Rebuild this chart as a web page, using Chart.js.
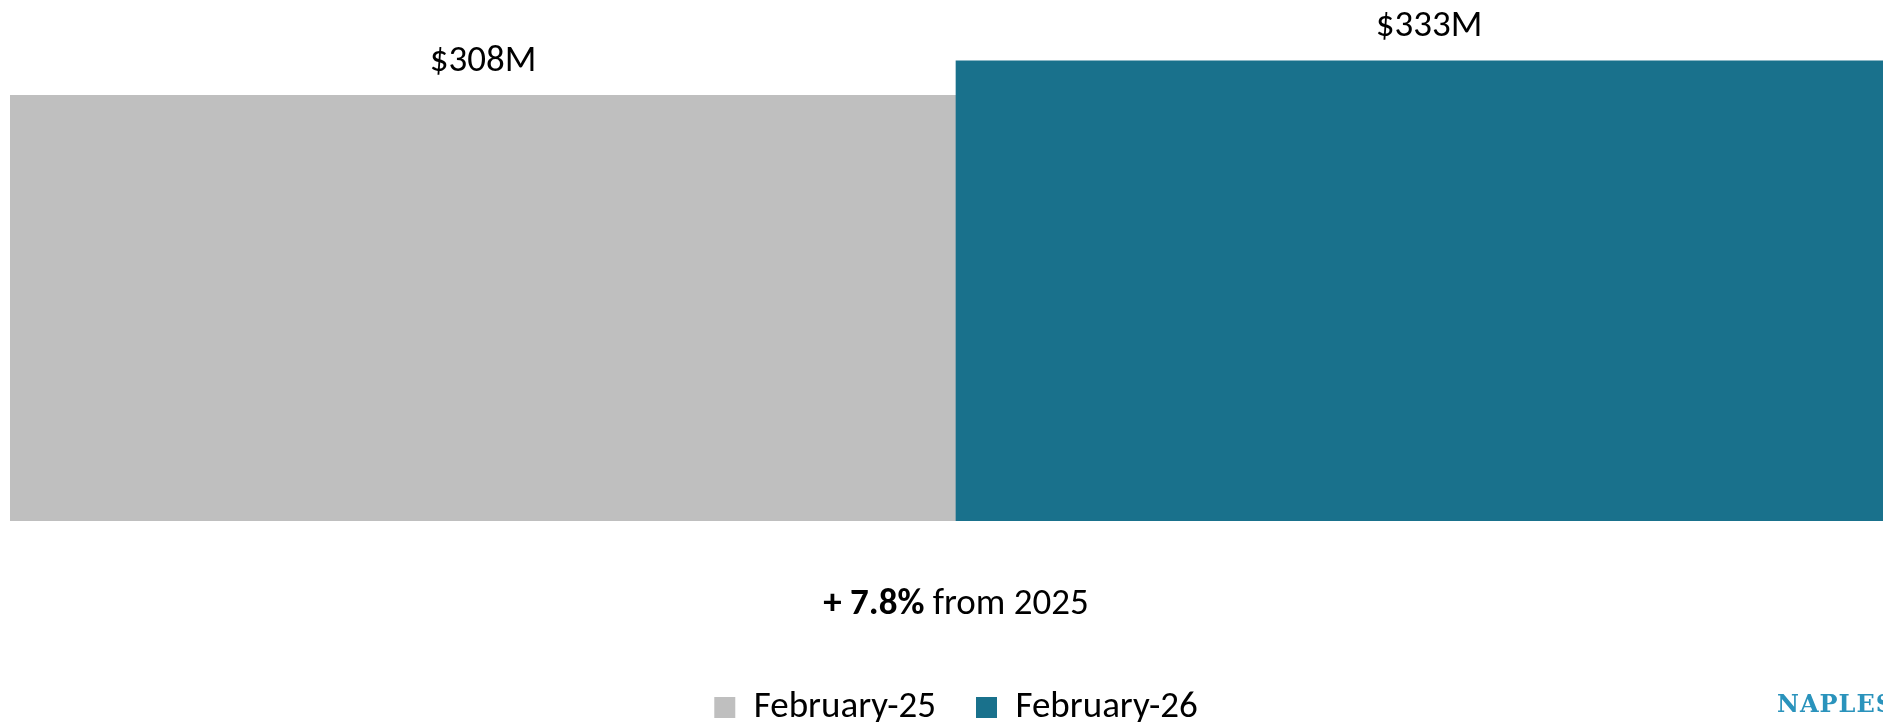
<!DOCTYPE html>
<html>
<head>
<meta charset="utf-8">
<title>February Sales Volume</title>
<script src="https://cdn.jsdelivr.net/npm/chart.js@4.4.1/dist/chart.umd.min.js"></script>
<style>
	body {
		margin: 0;
		background: #ffffff;
		overflow: hidden;
		width: 1883px;
		height: 722px;
		position: relative;
	}
	#chartBox {
		position: absolute;
		left: 0;
		top: 0;
		width: 1912px;
		height: 740px;
	}
	#logo {
		position: absolute;
		left: 1777px;
		top: 689px;
		font-family: "DejaVu Serif", serif;
		font-weight: bold;
		font-size: 24px;
		letter-spacing: 1px;
		color: #2a93bc;
		white-space: nowrap;
	}
</style>
</head>
<body>
<div id="chartBox"><canvas id="myChart"></canvas></div>
<div id="logo">NAPLES</div>

<script>
// Chart data
const categories = ["February-25", "February-26"];
const salesVolume = [308, 333];           // millions of dollars
const valueLabels = ["$308M", "$333M"];
const changeBold = "+ 7.8%";
const changeText = " from 2025";

const barColors = ["#bfbfbf", "#19718c"];
const fontFamily = "Carlito, Lato, sans-serif";
const fontSize = 37;

// Draws the value label above each bar
const valueLabelPlugin = {
	id: "valueLabels",
	afterDatasetsDraw(chart) {
		const ctx = chart.ctx;
		const meta = chart.getDatasetMeta(0);
		ctx.save();
		ctx.font = fontSize + "px " + fontFamily;
		ctx.fillStyle = "#000000";
		ctx.textAlign = "center";
		ctx.textBaseline = "middle";
		meta.data.forEach((bar, i) => {
			ctx.fillText(valueLabels[i], bar.x, bar.y - 34);
		});
		ctx.restore();
	}
};

// Draws the "+ 7.8% from 2025" note in the space under the bars
const changeNotePlugin = {
	id: "changeNote",
	afterDraw(chart) {
		const ctx = chart.ctx;
		const xScale = chart.scales.x;
		ctx.save();
		ctx.textBaseline = "middle";
		ctx.fillStyle = "#000000";
		ctx.font = "bold " + fontSize + "px " + fontFamily;
		let w1 = ctx.measureText(changeBold).width;
		ctx.font = fontSize + "px " + fontFamily;
		let w2 = ctx.measureText(changeText).width;
		let startX = chart.width / 2 - (w1 + w2) / 2;
		let y = xScale.top + 84;
		ctx.font = "bold " + fontSize + "px " + fontFamily;
		ctx.fillText(changeBold, startX, y);
		ctx.font = fontSize + "px " + fontFamily;
		ctx.fillText(changeText, startX + w1, y);
		ctx.restore();
	}
};

const myChart = document.getElementById("myChart");

let barChart = new Chart(myChart, {
	type: "bar",
	data: {
		labels: categories,
		datasets: [{
			label: "Sales Volume",
			data: salesVolume,
			backgroundColor: barColors,
			borderWidth: 0,
			categoryPercentage: 1.0,
			barPercentage: 1.0
		}]
	},
	options: {
		responsive: true,
		maintainAspectRatio: false,
		animation: false,
		layout: {
			padding: {top: 0, left: 10, right: 10, bottom: 4}
		},
		scales: {
			x: {
				grid: {display: false},
				border: {display: false},
				ticks: {display: false},
				afterFit(scale) {
					scale.height = 128;
				}
			},
			y: {
				display: false,
				min: 0,
				max: 377
			}
		},
		plugins: {
			legend: {
				position: "bottom",
				labels: {
					boxWidth: 21,
					boxHeight: 21,
					padding: 40,
					color: "#000000",
					font: {family: fontFamily, size: fontSize},
					// one legend entry per year, coloured like its bar
					generateLabels(chart) {
						return categories.map((name, i) => ({
							text: name,
							fillStyle: barColors[i],
							strokeStyle: barColors[i],
							lineWidth: 0,
							hidden: false,
							index: i
						}));
					}
				}
			},
			tooltip: {enabled: false}
		}
	},
	plugins: [valueLabelPlugin, changeNotePlugin]
});
</script>
</body>
</html>
